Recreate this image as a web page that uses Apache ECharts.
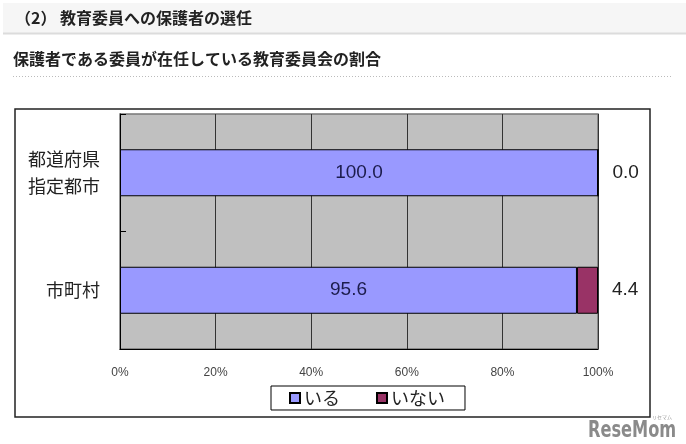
<!DOCTYPE html>
<html>
<head>
<meta charset="utf-8">
<script src="https://cdn.jsdelivr.net/npm/echarts@6/dist/echarts.min.js"></script>
<style>html,body{margin:0;padding:0;background:#fff;}#c{width:686px;height:444px;}</style>
</head>
<body>
<div id="c"></div>
<script>
const categories = ['都道府県\n指定都市', '市町村'];
const seriesNames = ['いる', 'いない'];
const iruValues = [100.0, 95.6];
const inaiValues = [0.0, 4.4];
const tickMin = 0, tickMax = 100, tickStep = 20;

const chart = echarts.init(document.getElementById('c'), null, {renderer: 'canvas'});
const jp = '"Noto Sans CJK JP", "Noto Sans", sans-serif';
chart.setOption({
  animation: false,
  backgroundColor: '#fff',
  textStyle: {fontFamily: jp},
  graphic: [
    {type: 'rect', shape: {x: 3, y: 3, width: 683, height: 30}, style: {fill: '#f6f6f6'}, z: 0},
    {type: 'line', shape: {x1: 3, y1: 33.5, x2: 686, y2: 33.5}, style: {stroke: '#dcdcdc', lineWidth: 2}, z: 1},
    {type: 'text', x: 15, y: 18, style: {text: '（2） 教育委員への保護者の選任', font: 'bold 16px ' + jp, fill: '#222', textVerticalAlign: 'middle'}, z: 2},
    {type: 'text', x: 13, y: 59, style: {text: '保護者である委員が在任している教育委員会の割合', font: 'bold 16px ' + jp, fill: '#222', textVerticalAlign: 'middle'}, z: 2},
    {type: 'line', shape: {x1: 13, y1: 76.5, x2: 672, y2: 76.5}, style: {stroke: '#bbb', lineWidth: 1, lineDash: [1, 2]}, z: 1},
    {type: 'rect', shape: {x: 15, y: 109, width: 635, height: 308}, style: {fill: null, stroke: '#222', lineWidth: 1.5}, z: 1},
    {type: 'text', x: 588, y: 431, scaleY: 1.3, style: {text: 'ReseMom', font: 'bold 18px "DejaVu Sans Condensed", sans-serif', fill: '#8a8a8a', textVerticalAlign: 'middle'}, z: 3},
    {type: 'text', x: 652, y: 417, style: {text: 'リセマム', font: '5px ' + jp, fill: '#999', textVerticalAlign: 'middle'}, z: 3}
  ],
  grid: {left: 120, right: 88, top: 114, height: 235, show: true, backgroundColor: '#C0C0C0', borderColor: '#777', borderWidth: 1.5},
  legend: {
    data: seriesNames,
    left: 271, top: 386,
    orient: 'horizontal',
    icon: 'rect',
    itemWidth: 10, itemHeight: 10, itemGap: 36,
    padding: [3, 20, 3, 18],
    borderColor: '#000', borderWidth: 1,
    textStyle: {fontSize: 18, color: '#222', fontFamily: jp, padding: [0, 0, 0, -1]}
  },
  xAxis: {
    type: 'value', min: tickMin, max: tickMax, interval: tickStep,
    axisLine: {show: true, lineStyle: {color: '#000', width: 1}},
    axisTick: {show: false},
    splitLine: {show: true, lineStyle: {color: '#333', width: 1}},
    axisLabel: {formatter: '{value}%', fontSize: 12, color: '#444', margin: 18, fontFamily: '"Liberation Sans Narrow", "Liberation Sans", sans-serif'}
  },
  yAxis: {
    type: 'category', data: categories, inverse: true,
    axisLine: {show: true, lineStyle: {color: '#000', width: 1}},
    axisTick: {show: true, inside: true, length: 6, lineStyle: {color: '#000'}},
    axisLabel: {fontSize: 18, color: '#222', margin: 20, lineHeight: 27, fontFamily: jp}
  },
  series: [
    {
      name: seriesNames[0], type: 'bar', stack: 'a', data: iruValues, barWidth: 47,
      itemStyle: {color: '#9999FF', borderColor: '#000', borderWidth: 1},
      label: {show: true, position: 'inside', fontSize: 19, color: '#1c1c4c', fontFamily: '"Liberation Sans", sans-serif', formatter: p => p.value.toFixed(1)}
    },
    {
      name: seriesNames[1], type: 'bar', stack: 'a', data: inaiValues, barWidth: 47,
      itemStyle: {color: '#993366', borderColor: '#000', borderWidth: 1},
      label: {show: true, position: 'right', distance: 14, fontSize: 19, color: '#222', fontFamily: '"Liberation Sans", sans-serif', formatter: p => p.value.toFixed(1)}
    }
  ]
});
</script>
</body>
</html>
